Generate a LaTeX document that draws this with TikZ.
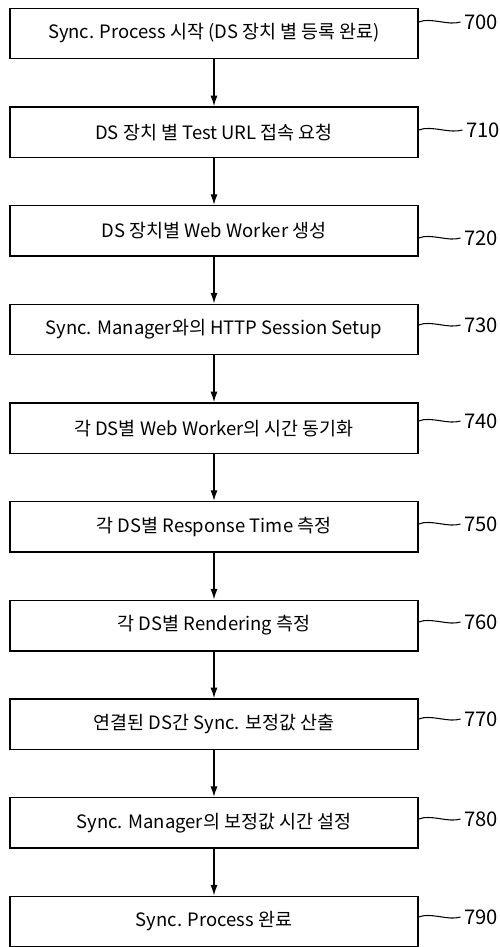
\documentclass[tikz,border=0pt]{standalone}
\usepackage{fontspec}
\setmainfont{Noto Sans CJK KR}
\usetikzlibrary{arrows.meta}

\begin{document}
\begin{tikzpicture}[>={Latex[length=6pt,width=4pt]}, x=0.02cm, y=-0.02cm,
    stepbox/.style={draw, line width=0.85pt, minimum width=8.16cm, minimum height=1.01cm,
        inner sep=0pt, font=\fontsize{10.5}{12}\selectfont},
    reflabel/.style={anchor=west, inner sep=0pt, font=\fontsize{11.5}{13}\selectfont},
    leader/.style={line width=0.6pt}]
    \useasboundingbox (0,0) rectangle (500,947);

    % 단계 상자
    \node[stepbox] (s700) at (214, 33.5)  {Sync. Process 시작 (DS 장치 별 등록 완료)};
    \node[stepbox] (s710) at (214, 132.2) {DS 장치 별 Test URL 접속 요청};
    \node[stepbox] (s720) at (214, 230.8) {DS 장치별 Web Worker 생성};
    \node[stepbox] (s730) at (214, 329.5) {Sync. Manager와의 HTTP Session Setup};
    \node[stepbox] (s740) at (214, 428.2) {각 DS별 Web Worker의 시간 동기화};
    \node[stepbox] (s750) at (214, 526.8) {각 DS별 Response Time 측정};
    \node[stepbox] (s760) at (214, 625.5) {각 DS별 Rendering 측정};
    \node[stepbox] (s770) at (214, 724.2) {연결된 DS간 Sync. 보정값 산출};
    \node[stepbox] (s780) at (214, 822.9) {Sync. Manager의 보정값 시간 설정};
    \node[stepbox] (s790) at (214, 921.5) {Sync. Process 완료};

    % 흐름 화살표
    \draw[->, line width=0.75pt] (s700) -- (s710);
    \draw[->, line width=0.75pt] (s710) -- (s720);
    \draw[->, line width=0.75pt] (s720) -- (s730);
    \draw[->, line width=0.75pt] (s730) -- (s740);
    \draw[->, line width=0.75pt] (s740) -- (s750);
    \draw[->, line width=0.75pt] (s750) -- (s760);
    \draw[->, line width=0.75pt] (s760) -- (s770);
    \draw[->, line width=0.75pt] (s770) -- (s780);
    \draw[->, line width=0.75pt] (s780) -- (s790);

    % 참조 번호
    \node[reflabel] (n700) at (464, 22)    {700};
    \node[reflabel] (n710) at (466, 130)   {710};
    \node[reflabel] (n720) at (464, 238)   {720};
    \node[reflabel] (n730) at (464, 325)   {730};
    \node[reflabel] (n740) at (464, 421)   {740};
    \node[reflabel] (n750) at (464, 524)   {750};
    \node[reflabel] (n760) at (464, 622)   {760};
    \node[reflabel] (n770) at (464, 719)   {770};
    \node[reflabel] (n780) at (464, 819)   {780};
    \node[reflabel] (n790) at (464, 917)   {790};

    % 지시선
    \draw[leader] (s700.east |- n700.west) .. controls +(12,-5) and +(-12,4) .. ([xshift=-2pt]n700.west);
    \draw[leader] (s710.east |- n710.west) .. controls +(12,-5) and +(-12,4) .. ([xshift=-2pt]n710.west);
    \draw[leader] (s720.east |- n720.west) .. controls +(12,-5) and +(-12,4) .. ([xshift=-2pt]n720.west);
    \draw[leader] (s730.east |- n730.west) .. controls +(12,-5) and +(-12,4) .. ([xshift=-2pt]n730.west);
    \draw[leader] (s740.east |- n740.west) .. controls +(12,-5) and +(-12,4) .. ([xshift=-2pt]n740.west);
    \draw[leader] (s750.east |- n750.west) .. controls +(12,-5) and +(-12,4) .. ([xshift=-2pt]n750.west);
    \draw[leader] (s760.east |- n760.west) .. controls +(12,-5) and +(-12,4) .. ([xshift=-2pt]n760.west);
    \draw[leader] (s770.east |- n770.west) .. controls +(12,-5) and +(-12,4) .. ([xshift=-2pt]n770.west);
    \draw[leader] (s780.east |- n780.west) .. controls +(12,-5) and +(-12,4) .. ([xshift=-2pt]n780.west);
    \draw[leader] (s790.east |- n790.west) .. controls +(12,-5) and +(-12,4) .. ([xshift=-2pt]n790.west);
\end{tikzpicture}
\end{document}
